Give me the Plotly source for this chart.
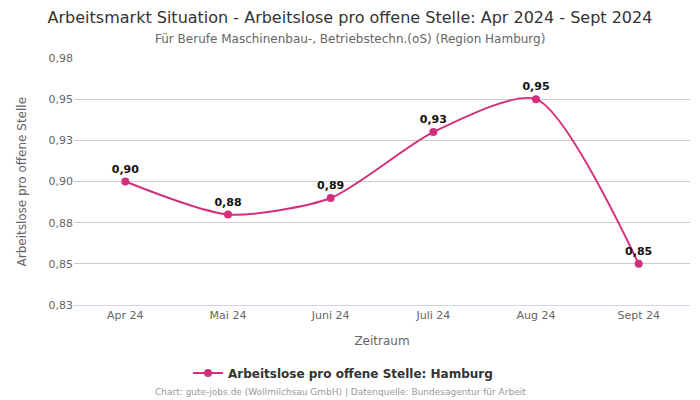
import plotly.graph_objects as go

months = ["Apr 24", "Mai 24", "Juni 24", "Juli 24", "Aug 24", "Sept 24"]
values = [0.90, 0.88, 0.89, 0.93, 0.95, 0.85]
labels = ["0,90", "0,88", "0,89", "0,93", "0,95", "0,85"]
tick_vals = [0.825, 0.85, 0.875, 0.90, 0.925, 0.95, 0.975]
tick_text = ["0,83", "0,85", "0,88", "0,90", "0,93", "0,95", "0,98"]

color = "#d42f7c"
font = "DejaVu Sans"
W, H = 700, 400
ML, MR, MT, MB = 74, 10, 58, 95
PW, PH = W - ML - MR, H - MT - MB
CX = (W / 2 - ML) / PW  # paper x of the page centre

fig = go.Figure()
fig.add_trace(go.Scatter(
    x=months, y=values, mode="lines+markers+text",
    line=dict(color=color, width=2, shape="spline", smoothing=0.7),
    marker=dict(color=color, size=8),
    text=labels, textposition="top center",
    textfont=dict(family=font, size=11, color="#111111", weight="bold"),
    name="Arbeitslose pro offene Stelle: Hamburg",
    cliponaxis=False,
))

fig.update_layout(
    width=W, height=H,
    margin=dict(l=ML, r=MR, t=MT, b=MB, autoexpand=False),
    paper_bgcolor="white", plot_bgcolor="white",
    font=dict(family=font, color="#666666"),
    title=dict(
        text="Arbeitsmarkt Situation - Arbeitslose pro offene Stelle: Apr 2024 - Sept 2024",
        x=0.5, xref="container", xanchor="center", y=(H - 17) / H, yref="container", yanchor="middle",
        font=dict(family=font, size=16, color="#333333"),
    ),
    showlegend=True,
    legend=dict(
        orientation="h", x=343 / W, xanchor="center", xref="container",
        y=(H - 373) / H, yref="container", yanchor="middle",
        font=dict(family=font, size=12, color="#333333", weight="bold"),
    ),
    xaxis=dict(
        type="category", range=[-0.5, 5.5], automargin=False,
        title=dict(text="Zeitraum", font=dict(size=12, color="#666666")),
        tickfont=dict(size=11, color="#666666"),
        showgrid=False, showline=True, linecolor="#ccd6eb", ticks="",
    ),
    yaxis=dict(
        range=[0.825, 0.975], tickvals=tick_vals, ticktext=tick_text, automargin=False,
        tickfont=dict(size=11, color="#666666"),
        showgrid=True, gridcolor="#cccccc", gridwidth=1, zeroline=False,
    ),
    annotations=[
        dict(text="Für Berufe Maschinenbau-, Betriebstechn.(oS) (Region Hamburg)",
             x=CX, xref="paper", xanchor="center", y=(H - MB - 39) / PH, yref="paper", yanchor="middle",
             showarrow=False, font=dict(family=font, size=12, color="#666666")),
        dict(text="Arbeitslose pro offene Stelle", textangle=-90,
             x=(21 - ML) / PW, xref="paper", xanchor="center", y=0.5, yref="paper", yanchor="middle",
             showarrow=False, font=dict(family=font, size=12, color="#666666")),
        dict(text="Chart: gute-jobs.de (Wollmilchsau GmbH) | Datenquelle: Bundesagentur für Arbeit",
             x=(340 - ML) / PW, xref="paper", xanchor="center", y=-(392 - (H - MB)) / PH, yref="paper", yanchor="middle",
             showarrow=False, font=dict(family=font, size=9, color="#999999")),
    ],
)

fig.write_html("out.html", config={"displayModeBar": False},
               post_script="document.body.style.margin='0';document.body.style.padding='0';")
